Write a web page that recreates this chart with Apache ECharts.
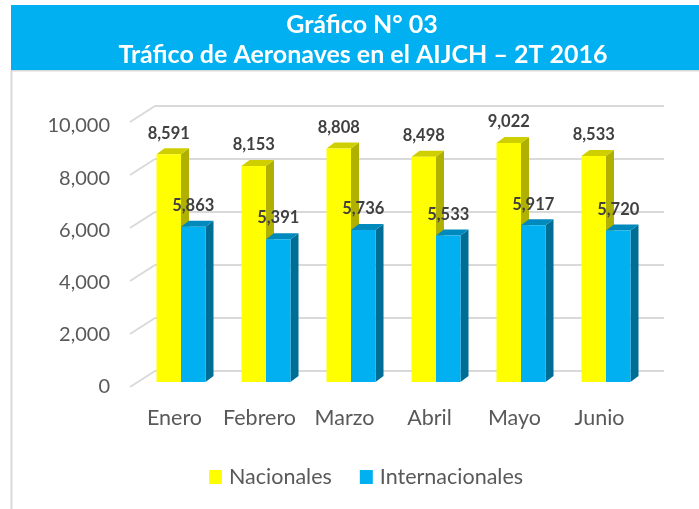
<!DOCTYPE html>
<html><head><meta charset="utf-8">
<script src="https://cdn.jsdelivr.net/npm/echarts@6/dist/echarts.min.js"></script>
<style>html,body{margin:0;padding:0;background:#fff}#c{width:699px;height:509px}</style>
</head><body><div id="c"></div>
<script>
const categories = ['Enero', 'Febrero', 'Marzo', 'Abril', 'Mayo', 'Junio'];
const nacionales = [8591, 8153, 8808, 8498, 9022, 8533];
const internacionales = [5863, 5391, 5736, 5533, 5917, 5720];
const yTicks = [0, 2000, 4000, 6000, 8000, 10000];
const seriesNames = ['Nacionales', 'Internacionales'];
const titleLines = ['Gráfico N° 03', 'Tráfico de Aeronaves en el AIJCH – 2T 2016'];

const FONT = 'Lato';
const DEPTH_X = 8, DEPTH_Y = 6, BAR_W = 24.5;
const fmt = v => Number(v).toLocaleString('en-US');

function bar3d(leftSide, faces) {
  return function (params, api) {
    const idx = api.value(0), val = api.value(1);
    const top = api.coord([idx, val]);
    const base = api.coord([idx, 0]);
    const x0 = leftSide ? top[0] - BAR_W : top[0];
    const x1 = x0 + BAR_W;
    const yT = top[1], yB = base[1];
    return {
      type: 'group', children: [
        { type: 'polygon', shape: { points: [[x1, yB], [x1 + DEPTH_X, yB - DEPTH_Y], [x1 + DEPTH_X, yT - DEPTH_Y], [x1, yT]] }, style: { fill: faces.side } },
        { type: 'polygon', shape: { points: [[x0, yT], [x0 + DEPTH_X, yT - DEPTH_Y], [x1 + DEPTH_X, yT - DEPTH_Y], [x1, yT]] }, style: { fill: faces.top } },
        { type: 'rect', shape: { x: x0, y: yT, width: BAR_W, height: yB - yT }, style: { fill: faces.front } },
        { type: 'text', x: (x0 + x1) / 2, y: yT - 21, style: { text: fmt(val), fill: '#404040', fontFamily: FONT, fontWeight: 'bold', fontSize: 16.5, align: 'center', verticalAlign: 'middle', textAlign: 'center', textVerticalAlign: 'middle' } }
      ]
    };
  };
}

const chart = echarts.init(document.getElementById('c'), null, { renderer: 'canvas' });
chart.setOption({
  animation: false,
  backgroundColor: '#ffffff',
  textStyle: { fontFamily: FONT },
  graphic: [
    { type: 'rect', z: -10, shape: { x: 11.5, y: 70.5, width: 700, height: 460 }, style: { fill: '#ffffff', stroke: '#D9D9D9', lineWidth: 2 } },
    { type: 'rect', z: -5, shape: { x: 11, y: 5, width: 700, height: 65 }, style: { fill: '#00B0F0' } },
    { type: 'text', x: 362, y: 25, style: { text: titleLines[0], fill: '#ffffff', fontFamily: FONT, fontWeight: 'bold', fontSize: 25, align: 'center', verticalAlign: 'middle', textAlign: 'center', textVerticalAlign: 'middle' } },
    { type: 'text', x: 363, y: 55, style: { text: titleLines[1], fill: '#ffffff', fontFamily: FONT, fontWeight: 'bold', fontSize: 25, align: 'center', verticalAlign: 'middle', textAlign: 'center', textVerticalAlign: 'middle' } }
  ],
  legend: {
    data: [{ name: seriesNames[0], icon: 'rect' }, { name: seriesNames[1], icon: 'rect' }],
    left: 204, top: 461, itemWidth: 13, itemHeight: 14, itemGap: 28,
    textStyle: { fontSize: 21.5, color: '#595959', fontFamily: FONT, padding: [0, 0, 0, 2] }
  },
  grid: [
    { left: 132, width: 510, top: 126, height: 261 },
    { left: 138.5, width: 510, top: 117, height: 265 },
    { left: 155, width: 509, top: 106, height: 265 }
  ],
  xAxis: [
    { gridIndex: 0, type: 'category', data: categories, axisLine: { show: false }, axisTick: { show: false }, axisLabel: { interval: 0, fontSize: 21.5, color: '#595959', margin: 20, fontFamily: FONT } },
    { gridIndex: 1, type: 'category', data: categories, show: false },
    { gridIndex: 2, type: 'category', data: categories, show: false }
  ],
  yAxis: [
    { gridIndex: 0, type: 'value', min: 0, max: 10000, interval: 2000, splitLine: { show: false }, axisLine: { show: false }, axisTick: { show: false }, axisLabel: { fontSize: 20, color: '#595959', margin: 22, fontFamily: FONT, formatter: v => fmt(v) } },
    { gridIndex: 1, type: 'value', min: 0, max: 10000, interval: 2000, show: false },
    { gridIndex: 2, type: 'value', min: 0, max: 10000, interval: 2000, axisLine: { show: false }, axisTick: { show: false }, axisLabel: { show: false }, splitLine: { show: true, lineStyle: { color: '#D9D9D9', width: 2 } } }
  ],
  series: [
    {
      type: 'custom', name: 'connectors', xAxisIndex: 2, yAxisIndex: 2, silent: true, legendHoverLink: false,
      data: yTicks.map(v => [0, v]),
      renderItem: function (params, api) {
        const p = api.coord([0, api.value(1)]);
        const bx = p[0] - api.size([1, 0])[0] / 2;
        return { type: 'line', shape: { x1: bx - 25, y1: p[1] + 16, x2: bx, y2: p[1] }, style: { stroke: '#D9D9D9', lineWidth: 2 } };
      }
    },
    {
      type: 'custom', name: seriesNames[0], xAxisIndex: 1, yAxisIndex: 1,
      itemStyle: { color: '#FFFF00' },
      data: nacionales.map((v, i) => [i, v]),
      renderItem: bar3d(true, { front: '#FFFF00', top: '#CFCF00', side: '#B0B000' })
    },
    {
      type: 'custom', name: seriesNames[1], xAxisIndex: 1, yAxisIndex: 1,
      itemStyle: { color: '#00B0F0' },
      data: internacionales.map((v, i) => [i, v]),
      renderItem: bar3d(false, { front: '#00B0F0', top: '#0089BC', side: '#006D95' })
    }
  ]
});
</script></body></html>
